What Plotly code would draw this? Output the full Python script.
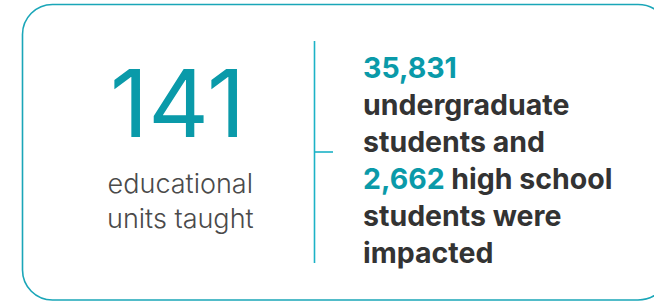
import plotly.graph_objects as go

# ---- data ----
units_values = [141]
units_labels = ["educational", "units taught"]
student_values = [35831, 2662]
student_texts = ["undergraduate", "students and", "high school", "students were", "impacted"]

TEAL = "#0a9aa9"
LINE = "#1aa6b8"
DIV = "#1cb2c6"
DARK = "#333333"
GREY = "#4a4a4a"
FONT = "Inter"

W, H = 654, 301
fig = go.Figure()
fig.update_layout(
    width=W, height=H, margin=dict(l=0, r=0, t=0, b=0),
    paper_bgcolor="white", plot_bgcolor="white", showlegend=False,
    xaxis=dict(range=[0, W], visible=False, fixedrange=True),
    yaxis=dict(range=[H, 0], visible=False, fixedrange=True),
)

# rounded box
L, T, R, B, r = 22.5, 4.5, 670, 300, 32
k = r * 0.5523
path = (f"M {L+30},{T} L {R-r},{T} C {R-r+k},{T} {R},{T+r-k} {R},{T+r} "
        f"L {R},{B-r} C {R},{B-r+k} {R-r+k},{B} {R-r},{B} "
        f"L {L+30},{B} C {L+30-30*0.5523},{B} {L},{B-30+30*0.5523} {L},{B-30} "
        f"L {L},{T+30} C {L},{T+30-30*0.5523} {L+30-30*0.5523},{T} {L+30},{T} Z")
fig.add_shape(type="path", path=path, xref="x", yref="y",
              line=dict(color=LINE, width=1.6), fillcolor="rgba(0,0,0,0)")
# divider
fig.add_shape(type="line", x0=314.5, x1=314.5, y0=41, y1=263, xref="x", yref="y",
              line=dict(color=DIV, width=1.6))
fig.add_shape(type="line", x0=314.5, x1=333, y0=152, y1=152, xref="x", yref="y",
              line=dict(color=DIV, width=1.6))

# big number
fig.add_annotation(x=177.5, y=102.5, xref="x", yref="y", xanchor="center", yanchor="middle",
                   text=f"{units_values[0]:,}", showarrow=False,
                   font=dict(family=FONT, size=94, color=TEAL, weight=400))
fig.add_annotation(x=180, y=200.5, xref="x", yref="y", xanchor="center", yanchor="middle",
                   text="<br>".join(units_labels), showarrow=False, align="center",
                   font=dict(family=FONT, size=27, color=GREY, weight=300))

# right block
lines = [
    f"<span style='color:{TEAL}'>{student_values[0]:,}</span>",
    student_texts[0],
    student_texts[1],
    f"<span style='color:{TEAL}'>{student_values[1]:,}</span> {student_texts[2]}",
    student_texts[3],
    student_texts[4],
]
fig.add_annotation(x=361, y=159.5, xref="x", yref="y", xanchor="left", yanchor="middle",
                   text="<br>".join(lines), showarrow=False, align="left",
                   font=dict(family=FONT, size=28.5, color=DARK, weight=700))

fig.write_html("out.html", config={"displayModeBar": False},
               post_script="document.body.style.margin='0';document.body.style.overflow='hidden';")
